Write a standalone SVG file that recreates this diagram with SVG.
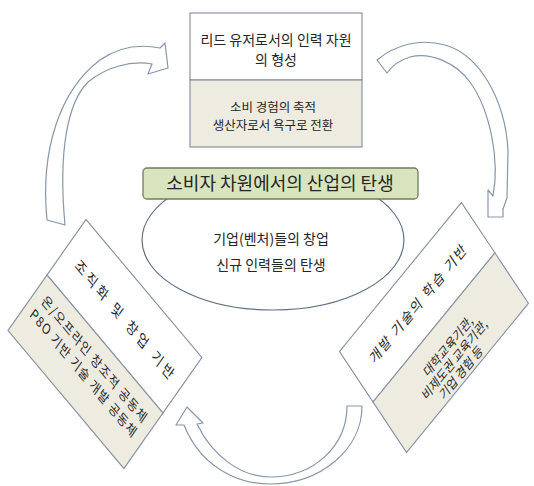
<svg xmlns="http://www.w3.org/2000/svg" width="534" height="486" viewBox="0 0 534 486">
<style>
.t{font-family:"Noto Sans CJK KR","Noto Sans",sans-serif;fill:#262626;text-anchor:middle}
.box{fill:#ffffff;stroke:#8a93a3;stroke-width:1.2}
.gray{fill:#eeece1;stroke:#8a93a3;stroke-width:1.2}
.arrow{fill:#ffffff;stroke:#8796ab;stroke-width:1.2;stroke-linejoin:round}
</style>
<rect width="534" height="486" fill="#ffffff"/>
<g id="connectors">
<path class="arrow" d="M47,220 C40,150 60,90 100,60 C120,46 140,44 160,48 L165,43 L168,68 L148,74 L152,64 C130,60 105,68 88,82 C68,102 58,150 65,225 Z"/>
<path class="arrow" d="M377,60 C395,45 420,38 445,45 C480,55 505,100 508,150 L507,198 L503,209 L503,217 L488,217 L488,190 L493,196 C500,160 490,110 470,82 C455,62 430,52 410,57 C400,60 392,66 387,73 Z"/>
<path class="arrow" d="M362,406 C362,450 320,484 270,484 C235,484 200,465 184,425 L176,425 L187,407 L203,423 L197,424 C212,455 240,477 270,477 C315,477 347,445 347,406 Z"/>
</g>
<g id="top">
<rect class="box" x="190" y="13" width="172" height="67"/>
<rect class="gray" x="190" y="80" width="172" height="67"/>
<text class="t" x="276" y="45" font-size="14">리드 유저로서의 인력 자원</text>
<text class="t" x="276" y="65" font-size="14">의 형성</text>
<text class="t" x="273" y="112" font-size="12.5">소비 경험의 축적</text>
<text class="t" x="273" y="130" font-size="12.5">생산자로서 욕구로 전환</text>
</g>
<g id="center">
<ellipse cx="273" cy="240" rx="131" ry="70" fill="#ffffff" stroke="#5f7088" stroke-width="1.2"/>
<rect x="143" y="168" width="275" height="31" rx="4" fill="#d7e4bd" stroke="#6f7f58" stroke-width="1.3"/>
<text class="t" x="280" y="190" font-size="18">소비자 차원에서의 산업의 탄생</text>
<text class="t" x="271" y="244" font-size="14">기업(벤처)들의 창업</text>
<text class="t" x="271" y="270" font-size="14">신규 인력들의 탄생</text>
</g>
<g id="left" transform="matrix(0.644 0.767 -0.575 0.818 86 219.5)">
<rect class="box" x="0" y="0" width="180" height="67.8"/>
<rect class="gray" x="0" y="67.8" width="180" height="67.9"/>
<text class="t" x="92" y="41" font-size="14" textLength="148" lengthAdjust="spacing">조직화 및 창업 기반</text>
<text class="t" x="90" y="91" font-size="13" textLength="158" lengthAdjust="spacing">온/오프라인 창조적 공동체</text>
<text class="t" x="89" y="109" font-size="13" textLength="160" lengthAdjust="spacing">P8O 기반 기술 개발 공동체</text>
</g>
<g id="right" transform="matrix(0.633 -0.774 0.553 0.833 339.5 351.5)">
<rect class="box" x="0" y="0" width="192.6" height="60.6"/>
<rect class="gray" x="0" y="60.6" width="192.6" height="60.6"/>
<text class="t" x="96" y="37" font-size="14" textLength="146" lengthAdjust="spacing">개발 기술의 학습 기반</text>
<text class="t" x="98" y="89" font-size="12.5">대학교육기관,</text>
<text class="t" x="96" y="103" font-size="12.5">비제도권 교육기관,</text>
<text class="t" x="94" y="117" font-size="12.5">기업 경험 등</text>
</g>
</svg>
